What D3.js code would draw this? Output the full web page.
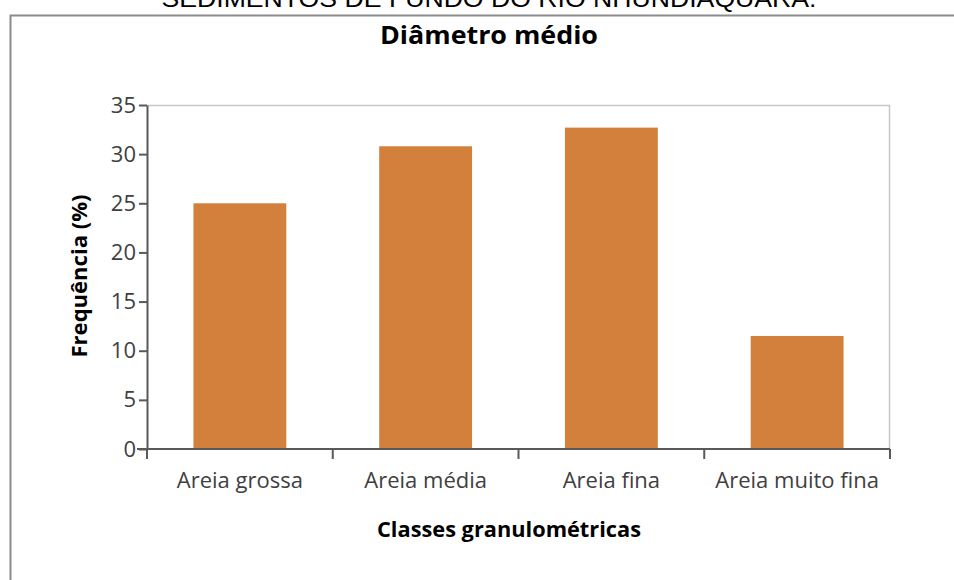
<!DOCTYPE html>
<html>
<head>
<meta charset="utf-8">
<script src="https://cdn.jsdelivr.net/npm/d3@7"></script>
<style>
  html, body { margin: 0; padding: 0; background: #fff; }
  svg { display: block; }
  .tick text { font-family: "Open Sans", Lato, sans-serif; font-size: 22px; fill: #404040; }
</style>
</head>
<body>
<svg id="chart" width="954" height="580"></svg>
<script>
// data
const categories = ['Areia grossa', 'Areia média', 'Areia fina', 'Areia muito fina'];
const frequencies = [25.0, 30.8, 32.7, 11.5];
const yTicks = [0, 5, 10, 15, 20, 25, 30, 35];

const svg = d3.select('#chart');
const margin = { top: 105, right: 64, bottom: 131, left: 147 };
const width = 954 - margin.left - margin.right;
const height = 580 - margin.top - margin.bottom;

// cut-off caption above the figure
svg.append('text')
  .attr('x', 489).attr('y', 7)
  .attr('text-anchor', 'middle')
  .attr('textLength', 655)
  .attr('lengthAdjust', 'spacingAndGlyphs')
  .style('font-family', '"Liberation Sans", Arial, sans-serif')
  .style('font-size', '24px')
  .attr('fill', '#000')
  .text('SEDIMENTOS DE FUNDO DO RIO NHUNDIAQUARA.');

// outer frame (no right edge visible)
svg.append('path')
  .attr('d', 'M10.5,580 V15.5 H960')
  .attr('fill', 'none')
  .attr('stroke', '#8c8c8c')
  .attr('stroke-width', 2);

const g = svg.append('g').attr('transform', `translate(${margin.left},${margin.top})`);

const x = d3.scaleBand()
  .domain(categories)
  .range([0, width])
  .paddingInner(0.5)
  .paddingOuter(0.25);

const y = d3.scaleLinear()
  .domain([0, 35])
  .range([height, 0]);

// plot border top / right
g.append('path')
  .attr('d', `M0,0.5 H${width - 0.5} V${height}`)
  .attr('fill', 'none')
  .attr('stroke', '#c8c8c8')
  .attr('stroke-width', 1.5);

g.selectAll('rect.bar')
  .data(frequencies)
  .join('rect')
  .attr('class', 'bar')
  .attr('x', (d, i) => x(categories[i]))
  .attr('y', d => y(d))
  .attr('width', x.bandwidth())
  .attr('height', d => y(0) - y(d))
  .attr('fill', '#d3803d');

// y axis
const yAxis = g.append('g')
  .call(d3.axisLeft(y).tickValues(yTicks).tickSize(8).tickSizeOuter(0).tickPadding(3));
yAxis.select('.domain').attr('stroke', '#595959').attr('stroke-width', 2);
yAxis.selectAll('.tick line').attr('stroke', '#595959').attr('stroke-width', 2);

// x axis: ticks at band boundaries
const bounds = d3.range(categories.length + 1).map(i => i * x.step());
const xAxis = g.append('g').attr('transform', `translate(0,${height})`);
xAxis.append('line')
  .attr('x1', -10).attr('x2', width)
  .attr('stroke', '#595959').attr('stroke-width', 2);
xAxis.selectAll('line.sep')
  .data(bounds)
  .join('line')
  .attr('class', 'sep')
  .attr('x1', d => d).attr('x2', d => d)
  .attr('y1', 0).attr('y2', 10)
  .attr('stroke', '#595959').attr('stroke-width', 2);
xAxis.selectAll('text.cat')
  .data(categories)
  .join('text')
  .attr('class', 'cat')
  .attr('x', d => x(d) + x.bandwidth() / 2)
  .attr('y', 39)
  .attr('text-anchor', 'middle')
  .style('font-family', '"Open Sans", Lato, sans-serif')
  .style('font-size', '22px')
  .attr('fill', '#404040')
  .text(d => d);

// titles
svg.append('text')
  .attr('x', 489).attr('y', 44)
  .attr('text-anchor', 'middle')
  .attr('textLength', 218)
  .attr('lengthAdjust', 'spacingAndGlyphs')
  .style('font-family', '"Open Sans", Lato, sans-serif')
  .style('font-size', '25px')
  .style('font-weight', 'bold')
  .text('Diâmetro médio');

svg.append('text')
  .attr('x', 509).attr('y', 537)
  .attr('text-anchor', 'middle')
  .attr('textLength', 264)
  .attr('lengthAdjust', 'spacingAndGlyphs')
  .style('font-family', '"Open Sans", Lato, sans-serif')
  .style('font-size', '21px')
  .style('font-weight', 'bold')
  .text('Classes granulométricas');

svg.append('text')
  .attr('transform', 'translate(87,276) rotate(-90)')
  .attr('text-anchor', 'middle')
  .attr('textLength', 163)
  .attr('lengthAdjust', 'spacingAndGlyphs')
  .style('font-family', '"Open Sans", Lato, sans-serif')
  .style('font-size', '21px')
  .style('font-weight', 'bold')
  .text('Frequência (%)');
</script>
</body>
</html>
